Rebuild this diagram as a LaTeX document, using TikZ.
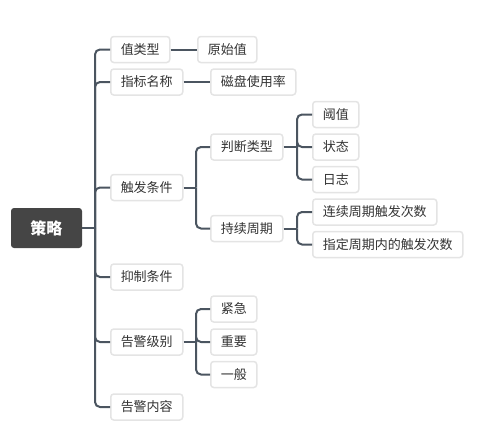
\documentclass[tikz,border=0pt]{standalone}
\usepackage{fontspec}
\setmainfont{Noto Sans CJK SC}
\definecolor{linegray}{HTML}{4B5560}
\definecolor{boxline}{HTML}{E4E4E4}
\definecolor{rootfill}{HTML}{454545}
\definecolor{txt}{HTML}{333333}

\begin{document}
\begin{tikzpicture}[x=1pt,y=-1pt,
  box/.style={draw=boxline,line width=1.5pt,fill=white,rounded corners=3pt,anchor=west,
    minimum height=26pt,inner xsep=10pt,text=txt,font=\fontsize{13pt}{13pt}\selectfont},
  root/.style={fill=rootfill,rounded corners=3pt,minimum width=71pt,minimum height=40pt,
    text=white,font=\fontsize{16pt}{16pt}\selectfont\bfseries},
  link/.style={draw=linegray,line width=2pt,rounded corners=5pt}]
\useasboundingbox (0,0) rectangle (491,437);
\node[root] (S) at (46.5,228) {策略};
\node[box] (V) at (110,49.5) {值类型};
\node[box] (R) at (197,49.5) {原始值};
\node[box] (Z) at (110,82) {指标名称};
\node[box] (C) at (210,82) {磁盘使用率};
\node[box] (T) at (110,187.5) {触发条件};
\node[box] (P) at (210,147) {判断类型};
\node[box] (Y) at (312,114.5) {阈值};
\node[box] (ZT) at (312,147) {状态};
\node[box] (RZ) at (312,179.5) {日志};
\node[box] (Q) at (210,228.5) {持续周期};
\node[box] (L) at (312,212) {连续周期触发次数};
\node[box] (D) at (312,244.5) {指定周期内的触发次数};
\node[box] (I) at (110,277) {抑制条件};
\node[box] (J) at (110,342) {告警级别};
\node[box] (J1) at (210,309) {紧急};
\node[box] (J2) at (210,342) {重要};
\node[box] (J3) at (210,374.5) {一般};
\node[box] (N) at (110,407) {告警内容};
% branch points
\coordinate (B0) at (95,228);
\coordinate (B1) at (196,187.5);
\coordinate (B2) at (297,147);
\coordinate (B3) at (297,228.5);
\coordinate (B4) at (196,342);
\draw[link] (S.east)--(B0);
\draw[link] (B0) |- (V.west);
\draw[link] (B0) |- (Z.west);
\draw[link] (B0) |- (T.west);
\draw[link] (B0) |- (I.west);
\draw[link] (B0) |- (J.west);
\draw[link] (B0) |- (N.west);
\draw[link] (V.east)--(R.west);
\draw[link] (Z.east)--(C.west);
\draw[link] (T.east)--(B1);
\draw[link] (B1) |- (P.west);
\draw[link] (B1) |- (Q.west);
\draw[link] (P.east)--(B2);
\draw[link] (B2) |- (Y.west);
\draw[link] (B2) |- (ZT.west);
\draw[link] (B2) |- (RZ.west);
\draw[link] (Q.east)--(B3);
\draw[link] (B3) |- (L.west);
\draw[link] (B3) |- (D.west);
\draw[link] (J.east)--(B4);
\draw[link] (B4) |- (J1.west);
\draw[link] (B4) |- (J2.west);
\draw[link] (B4) |- (J3.west);
\end{tikzpicture}
\end{document}
